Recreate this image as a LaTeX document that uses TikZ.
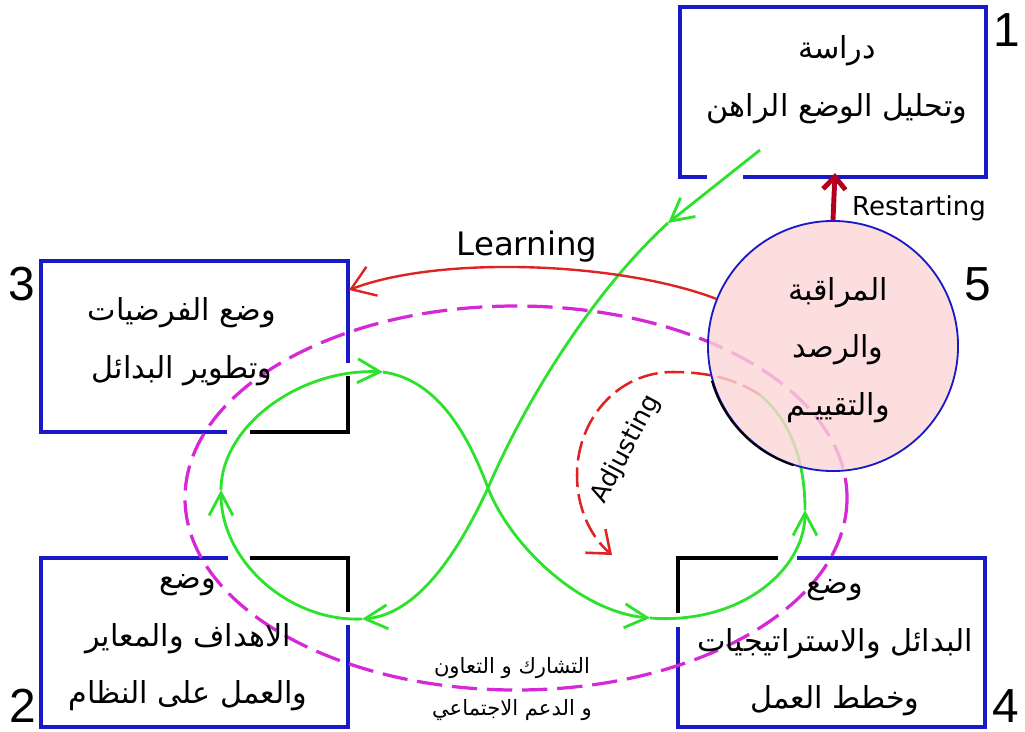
\documentclass[tikz,border=0pt]{standalone}
\usepackage{fontspec}
\setmainfont{DejaVu Sans}
\newfontfamily\arabicfont[Script=Arabic]{DejaVu Sans}
\newfontfamily\numfont{Liberation Sans}
\TeXXeTstate=1
\usetikzlibrary{arrows.meta}

\definecolor{boxblue}{RGB}{25,25,200}
\definecolor{loopgreen}{RGB}{45,225,45}
\definecolor{learnred}{RGB}{222,35,35}
\definecolor{restartred}{RGB}{178,0,30}
\definecolor{pinkfill}{RGB}{252,214,214}
\definecolor{ringpink}{RGB}{215,40,215}

\tikzset{
  boxline/.style={boxblue, line width=2.2pt},
  cornerline/.style={black, line width=2.2pt},
  loop/.style={loopgreen, line width=2pt},
  barb/.style={-{Straight Barb[length=16pt,width=17pt]}},
  ring/.style={ringpink, line width=2.3pt, dash pattern=on 18pt off 7pt},
  adjust/.style={learnred, line width=1.8pt, dash pattern=on 14pt off 5pt,
    -{Straight Barb[length=14pt,width=22pt]}},
  learn/.style={learnred, line width=1.7pt, -{Straight Barb[length=16pt,width=22pt]}},
  restart/.style={restartred, line width=3.5pt, -{Straight Barb[length=9pt,width=16pt]}},
  arab/.style={font=\arabicfont\fontsize{21.5}{41}\selectfont, align=center},
  arabsmall/.style={font=\arabicfont\fontsize{15}{30}\selectfont, align=center},
  num/.style={font=\numfont\fontsize{34}{34}\selectfont},
}

\begin{document}
\begin{tikzpicture}[x=0.025cm, y=-0.025cm]
\useasboundingbox (0,0) rectangle (1025,731);
\fill[white] (0,0) rectangle (1025,731);

% boxes
\draw[boxline] (707,177) -- (680,177) -- (680,7) -- (986,7) -- (986,177) -- (743,177);
\draw[boxline] (348,363) -- (348,261) -- (41,261) -- (41,432) -- (227,432);
\draw[cornerline] (250,432) -- (348,432) -- (348,376);
\draw[boxline] (228,558) -- (41,558) -- (41,727) -- (348,727) -- (348,625);
\draw[cornerline] (250,558) -- (348,558) -- (348,612);
\draw[boxline] (797,558) -- (985,558) -- (985,727) -- (678,727) -- (678,627);
\draw[cornerline] (778,558) -- (678,558) -- (678,613);

\coordinate (b1s) at (835,173);
\coordinate (learnend) at (349,290);

% ring
\draw[ring] (516,498) ellipse [x radius=331, y radius=192];

% figure eight
\coordinate (startA) at (760,150);
\coordinate (tipA) at (668,223);
\coordinate (cross) at (488,488);
\coordinate (tipBL) at (362,619);
\coordinate (tipL) at (221,490);
\coordinate (tipTL) at (383,372);
\coordinate (tipBR) at (650,618);
\coordinate (tipR) at (805,510);
\coordinate (joinR) at (760,395);
\coordinate (adjtip) at (612,555);

\draw[loop, barb] (startA) -- (tipA);
\draw[loop] (tipA) .. controls (600,285) and (530,390) .. (cross);
\draw[loop, barb] (cross) .. controls (450,570) and (410,615) .. (tipBL);
\draw[loop, barb] (tipBL) .. controls (290,622) and (221,562) .. (tipL);
\draw[loop, barb] (tipL) .. controls (221,426) and (300,368) .. (tipTL);
\draw[loop] (tipTL) .. controls (440,380) and (470,440) .. (cross);
\draw[loop, barb] (cross) .. controls (510,545) and (580,612) .. (tipBR);
\draw[loop, barb] (tipBR) .. controls (740,625) and (805,570) .. (tipR);
\draw[loop] (tipR) .. controls (805,460) and (790,420) .. (joinR);

\draw[adjust] (joinR) .. controls (735,378) and (705,372) .. (673,372)
  .. controls (617,372) and (577,420) .. (577,475)
  .. controls (577,510) and (592,538) .. (adjtip);
\node[rotate=62, font=\fontsize{18}{18}\selectfont] (adjlbl) at (626,449) {Adjusting};

% monitoring circle
\node[circle, minimum size=6.25cm, inner sep=0pt, fill=pinkfill, fill opacity=0.8,
  draw=boxblue, line width=1.3pt] (c5) at (833,346) {};
\draw[black, line width=1.5pt] (c5.196) arc[start angle=196, end angle=252, radius=3.125cm];

\draw[learn] (c5.158) .. controls (620,262) and (440,255) .. (learnend);
\draw[restart] (c5.north) -- (b1s);

% texts
\node[arab] (t1) at (837,80) {\beginR دراسة\endR\\\beginR وتحليل الوضع الراهن\endR};
\node[arab] (t3) at (182,342) {\beginR وضع الفرضيات\endR\\\beginR وتطوير البدائل\endR};
\node[arab] (t2) at (188,643) {\beginR وضع\endR\\\beginR الاهداف والمعاير\endR\\\beginR والعمل على النظام\endR};
\node[arab] (t4) at (835,648) {\beginR وضع\endR\\\beginR البدائل والاستراتيجيات\endR\\\beginR وخطط العمل\endR};
\node[arab] (t5) at (838,350) {\beginR المراقبة\endR\\\beginR والرصد\endR\\\beginR والتقييـم\endR};
\node[arabsmall] (share) at (512,689) {\beginR التشارك و التعاون\endR\\\beginR و الدعم الاجتماعي\endR};

\node[font=\fontsize{23}{23}\selectfont] (learnlbl) at (527,247) {Learning};
\node[font=\fontsize{18.5}{18.5}\selectfont] (restartlbl) at (919,208) {Restarting};

\node[num] (n1) at (1007,30) {1};
\node[num] (n3) at (22,284) {3};
\node[num] (n2) at (23,706) {2};
\node[num] (n4) at (1006,706) {4};
\node[num] (n5) at (978,284) {5};
\end{tikzpicture}
\end{document}
